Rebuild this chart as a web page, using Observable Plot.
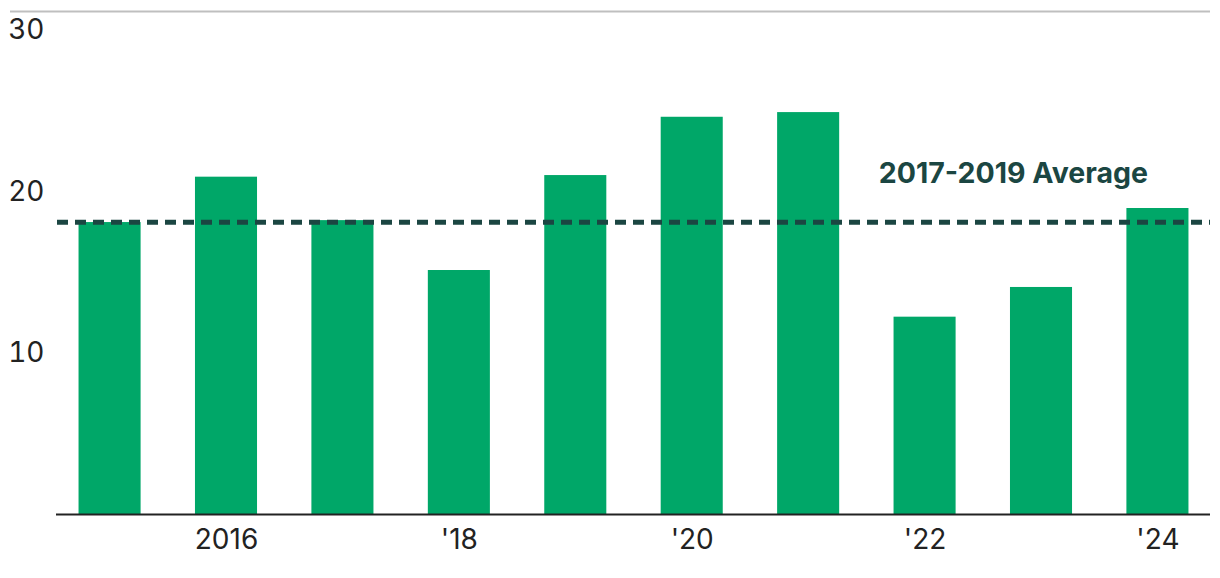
<!DOCTYPE html>
<html>
<head>
<meta charset="utf-8">
<script src="https://cdn.jsdelivr.net/npm/d3@7"></script>
<script src="https://cdn.jsdelivr.net/npm/@observablehq/plot@0.6"></script>
<style>
  html, body { margin: 0; padding: 0; background: #fff; }
  #chart svg { display: block; }
</style>
</head>
<body>
<div id="chart"></div>
<script>
const years = [2015, 2016, 2017, 2018, 2019, 2020, 2021, 2022, 2023, 2024];
const values = [18.08, 20.89, 18.2, 15.11, 20.99, 24.6, 24.89, 12.22, 14.06, 18.95];
const avgYears = [2017, 2018, 2019];
const avgLabel = "2017-2019 Average";
const xTickYears = [2016, 2018, 2020, 2022, 2024];
const xTickLabels = ["2016", "'18", "'20", "'22", "'24"];
const yTicks = [10, 20, 30];

const data = years.map((year, i) => ({year, value: values[i]}));
const avg = d3.mean(data.filter(d => avgYears.includes(d.year)), d => d.value);
const yTop = 31.15;

const chart = Plot.plot({
  width: 1220,
  height: 578,
  marginTop: 11,
  marginBottom: 64,
  marginLeft: 57,
  marginRight: 10,
  style: {fontFamily: "Inter, 'Noto Sans', sans-serif", color: "#222", background: "#fff"},
  x: {type: "band", domain: years, paddingInner: 0.467, paddingOuter: 0.185, round: false},
  y: {domain: [0, yTop]},
  marks: [
    Plot.ruleY([yTop], {stroke: "#bfbfbf", strokeWidth: 2, insetLeft: -47}),
    Plot.barY(data, {x: "year", y: "value", fill: "#00a768"}),
    Plot.ruleY([0], {stroke: "#222", strokeWidth: 2, insetLeft: -1}),
    Plot.ruleY([avg], {stroke: "#1b4642", strokeWidth: 5, strokeDasharray: "11,7"}),
    Plot.text([avgLabel], {
      x: () => 2024, y: () => avg, text: d => d,
      textAnchor: "end", lineAnchor: "middle", dx: -10, dy: -48,
      fill: "#1b4642", fontWeight: "bold", fontSize: 28.5
    }),
    Plot.axisY({ticks: yTicks, tickSize: 0, tickPadding: 13, fontSize: 28, label: null, fill: "#222"}),
    Plot.axisX({ticks: xTickYears, tickSize: 0, tickPadding: 15, fontSize: 28, label: null, fill: "#222",
      tickFormat: d => xTickLabels[xTickYears.indexOf(d)]})
  ]
});
document.getElementById("chart").appendChild(chart);
</script>
</body>
</html>
